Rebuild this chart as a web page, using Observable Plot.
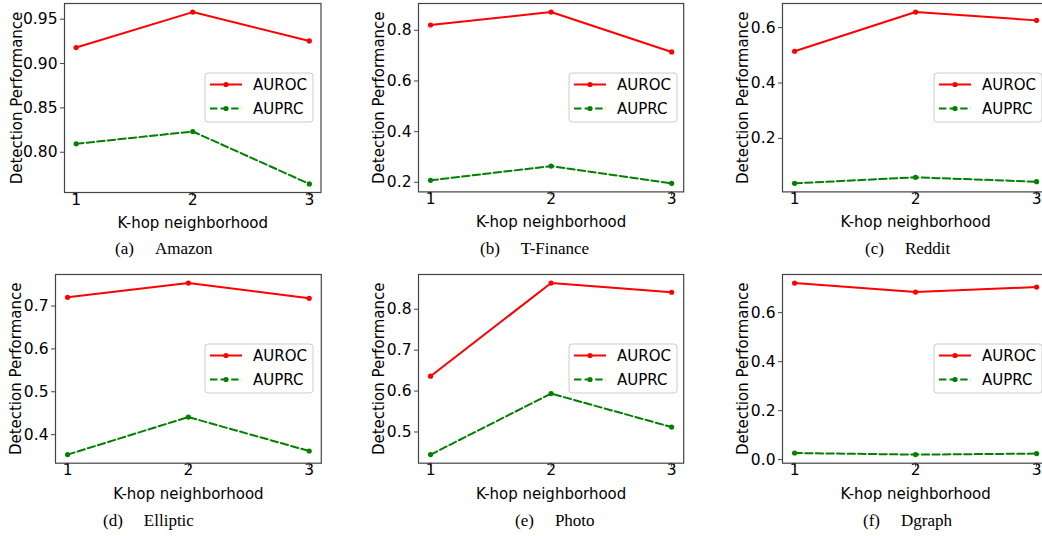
<!DOCTYPE html>
<html>
<head>
<meta charset="utf-8">
<script src="https://cdn.jsdelivr.net/npm/d3@7"></script>
<script src="https://cdn.jsdelivr.net/npm/@observablehq/plot@0.6"></script>
<style>
  html, body { margin: 0; padding: 0; background: #fff; overflow: hidden; }
  #root { position: relative; width: 1042px; height: 536px; overflow: hidden; }
  .panel { position: absolute; }
  .caption { position: absolute; font-family: "Liberation Serif", "Times New Roman", serif; font-size: 17px; line-height: 18px; white-space: pre; color: #000; }
  .legend { position: absolute; overflow: visible; }
</style>
</head>
<body>
<div id="root"></div>
<script>
// ---- data ----
const hops = [1, 2, 3];
const panelLetters = ["(a)", "(b)", "(c)", "(d)", "(e)", "(f)"];
const datasetNames = ["Amazon", "T-Finance", "Reddit", "Elliptic", "Photo", "Dgraph"];
const seriesNames = ["AUROC", "AUPRC"];
const aurocValues = [
  [0.918, 0.958, 0.9255],
  [0.821, 0.872, 0.7145],
  [0.5146, 0.656, 0.626],
  [0.7203, 0.7536, 0.718],
  [0.6364, 0.864, 0.8416],
  [0.7208, 0.684, 0.7045]
];
const auprcValues = [
  [0.8095, 0.8234, 0.7643],
  [0.208, 0.264, 0.196],
  [0.0378, 0.0595, 0.0436],
  [0.3534, 0.441, 0.3618],
  [0.4447, 0.594, 0.512],
  [0.027, 0.0204, 0.0245]
];
const yTickValues = [
  [0.80, 0.85, 0.90, 0.95],
  [0.2, 0.4, 0.6, 0.8],
  [0.2, 0.4, 0.6],
  [0.4, 0.5, 0.6, 0.7],
  [0.5, 0.6, 0.7, 0.8],
  [0.0, 0.2, 0.4, 0.6]
];
const yTickDecimals = [2, 1, 1, 1, 1, 1];
const xLabel = "K-hop neighborhood";
const yLabel = "Detection Performance";

// ---- layout (frame boxes in page pixels) ----
const frames = [
  {fx: 63.5, fr: 320, ft: 3, fb: 192, yl: 48.5},
  {fx: 418.3, fr: 683.5, ft: 3.3, fb: 191.7, yl: 40},
  {fx: 782.3, fr: 1048.5, ft: 3.3, fb: 191.7, yl: 40.6},
  {fx: 54.5, fr: 320.3, ft: 274, fb: 462.7, yl: 40.5},
  {fx: 418.3, fr: 683.5, ft: 274, fb: 462.7, yl: 40},
  {fx: 782.3, fr: 1048.5, ft: 274, fb: 462.7, yl: 40.6}
];
const captionPos = [
  {x: 115, y: 249.3}, {x: 480, y: 249.3}, {x: 865, y: 249.3},
  {x: 103, y: 520.7}, {x: 515, y: 520.7}, {x: 863, y: 520.7}
];

const RED = "#ff0000", GREEN = "#008000", FRAME = "#444";
const FONT = "DejaVu Sans";
const TICK_FS = 15.5;
const root = document.getElementById("root");
const mL = 75, mR = 12, mT = 6, mB = 50;

frames.forEach((f, i) => {
  const aur = hops.map((k, j) => ({k, v: aurocValues[i][j]}));
  const apr = hops.map((k, j) => ({k, v: auprcValues[i][j]}));
  const all = aurocValues[i].concat(auprcValues[i]);
  const lo = d3.min(all), hi = d3.max(all), pad = (hi - lo) * 0.05;
  const w = f.fr - f.fx + mL + mR, h = f.fb - f.ft + mT + mB;
  const fmt = d3.format("." + yTickDecimals[i] + "f");
  const chart = Plot.plot({
    width: w, height: h,
    marginLeft: mL, marginRight: mR, marginTop: mT, marginBottom: mB,
    style: {fontFamily: FONT, fontSize: "15px", color: "#000", background: "transparent", overflow: "visible"},
    x: {domain: [0.9, 3.1]},
    y: {domain: [lo - pad, hi + pad]},
    marks: [
      Plot.axisX({ticks: hops, tickSize: 4, tickFormat: () => "", stroke: FRAME, label: null}),
      Plot.text(hops, {x: d => d, frameAnchor: "bottom", dy: 12, text: d => String(d), fontSize: TICK_FS, fontFamily: FONT, fill: "#000"}),
      Plot.axisX({ticks: [], tickSize: 0, label: xLabel, labelAnchor: "center", labelArrow: "none", labelOffset: 35.5,
        fontSize: 15, fontFamily: FONT}),
      Plot.axisY({ticks: yTickValues[i], tickSize: 4, tickFormat: () => "", stroke: FRAME, label: null}),
      Plot.text(yTickValues[i], {y: d => d, frameAnchor: "left", dx: -7, textAnchor: "end", text: fmt, fontSize: TICK_FS, fontFamily: FONT, fill: "#000"}),
      Plot.axisY({ticks: [], tickSize: 0, label: yLabel, labelAnchor: "center", labelArrow: "none", labelOffset: f.yl + 5,
        fontSize: 15, fontFamily: FONT, fontWeight: "normal"}),
      Plot.line(aur, {x: "k", y: "v", stroke: RED, strokeWidth: 2}),
      Plot.dot(aur, {x: "k", y: "v", r: 2.6, fill: RED}),
      Plot.line(apr, {x: "k", y: "v", stroke: GREEN, strokeWidth: 2, strokeDasharray: "7.4,3.2"}),
      Plot.dot(apr, {x: "k", y: "v", r: 2.6, fill: GREEN}),
      Plot.frame({stroke: FRAME, strokeWidth: 1.2})
    ]
  });
  chart.classList.add("panel");
  chart.style.left = (f.fx - mL) + "px";
  chart.style.top = (f.ft - mT) + "px";
  root.appendChild(chart);

  // legend (center right inside the frame)
  const lw = 108, lh = 49;
  const lx = f.fr - 7 - lw, ly = (f.ft + f.fb) / 2 - lh / 2;
  const ns = "http://www.w3.org/2000/svg";
  const svg = document.createElementNS(ns, "svg");
  svg.setAttribute("class", "legend");
  svg.setAttribute("width", lw + 2);
  svg.setAttribute("height", lh + 2);
  svg.style.left = (lx - 1) + "px";
  svg.style.top = (ly - 1) + "px";
  const rows = [
    {name: seriesNames[0], color: RED, dash: null, y: 12.5},
    {name: seriesNames[1], color: GREEN, dash: "7.4,3.2", y: 36.5}
  ];
  let html = `<rect x="1" y="1" width="${lw}" height="${lh}" rx="3" ry="3" fill="rgba(255,255,255,0.8)" stroke="#cccccc" stroke-width="1"/>`;
  rows.forEach(r => {
    html += `<line x1="6" x2="38" y1="${r.y}" y2="${r.y}" stroke="${r.color}" stroke-width="2" ${r.dash ? `stroke-dasharray="${r.dash}" stroke-dashoffset="0"` : ""}/>`;
    html += `<circle cx="22" cy="${r.y}" r="2.6" fill="${r.color}"/>`;
    html += `<text x="49" y="${r.y}" dy="0.36em" font-family="${FONT}" font-size="15" fill="#000">${r.name}</text>`;
  });
  svg.innerHTML = html;
  root.appendChild(svg);

  // caption
  const cap = document.createElement("div");
  cap.className = "caption";
  cap.style.left = captionPos[i].x + "px";
  cap.style.top = (captionPos[i].y - 9) + "px";
  cap.innerHTML = `<span>${panelLetters[i]}</span><span style="display:inline-block;width:21px"></span><span>${datasetNames[i]}</span>`;
  root.appendChild(cap);
});
</script>
</body>
</html>
